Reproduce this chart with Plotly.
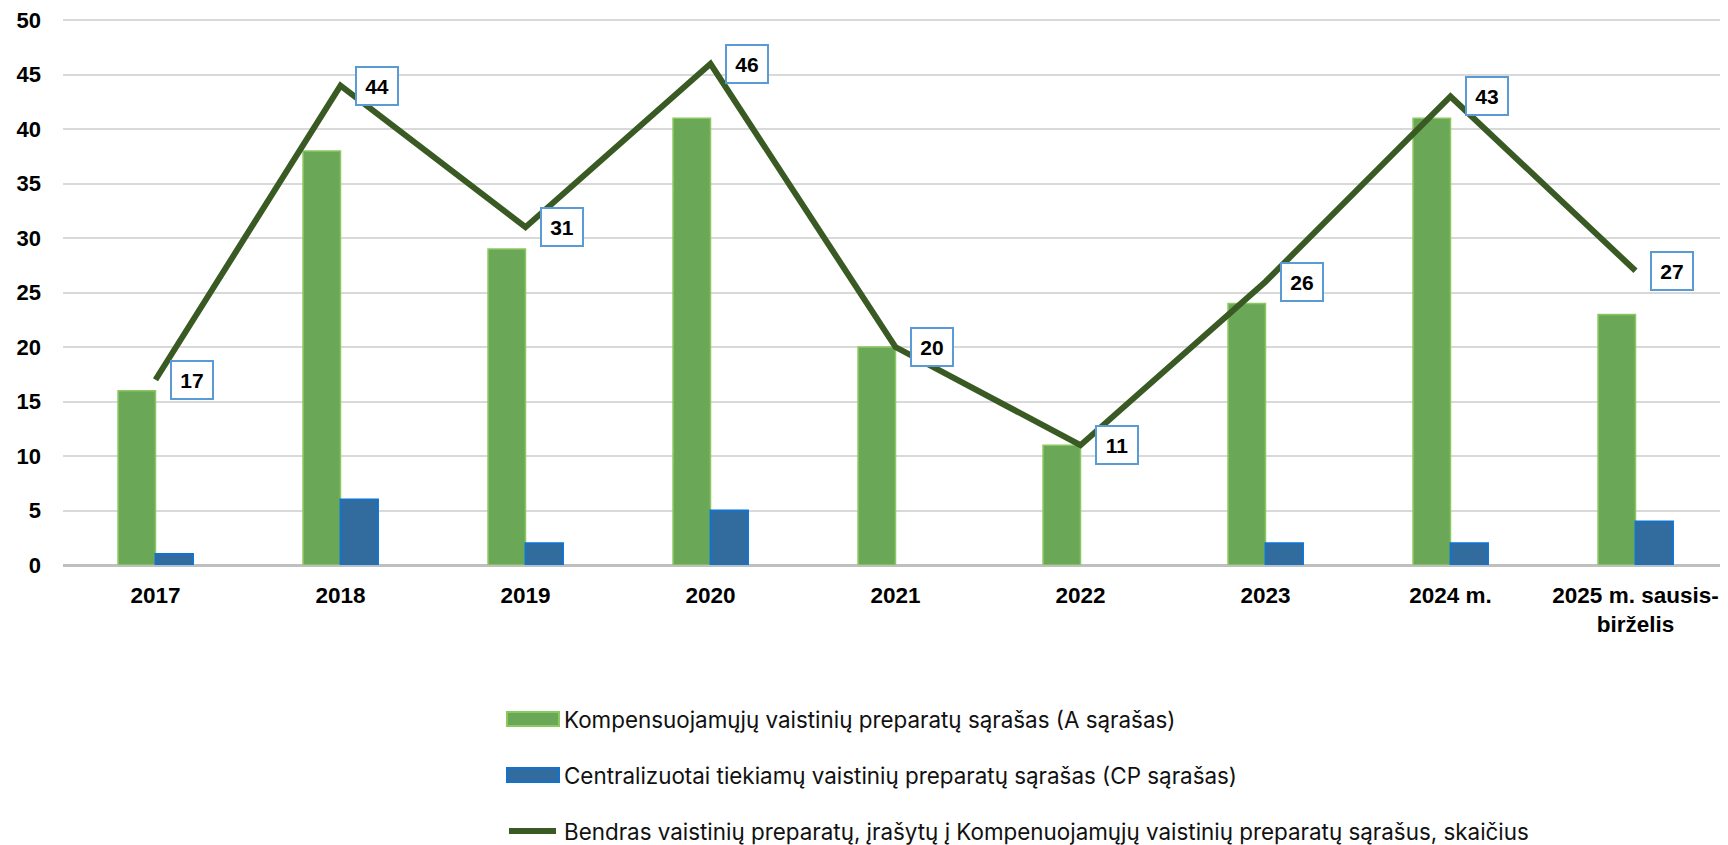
import plotly.graph_objects as go

# data
years = ["2017", "2018", "2019", "2020", "2021", "2022", "2023", "2024 m.", "2025 m. sausis-birželis"]
year_labels = ["2017", "2018", "2019", "2020", "2021", "2022", "2023", "2024 m.", "2025 m. sausis-<br>birželis"]
list_a = [16, 38, 29, 41, 20, 11, 24, 41, 23]
list_cp = [1, 6, 2, 5, None, None, 2, 2, 4]
total = [17, 44, 31, 46, 20, 11, 26, 43, 27]
y_ticks = [0, 5, 10, 15, 20, 25, 30, 35, 40, 45, 50]

name_a = "Kompensuojamųjų vaistinių preparatų sąrašas (A sąrašas)"
name_cp = "Centralizuotai tiekiamų vaistinių preparatų sąrašas (CP sąrašas)"
name_total = "Bendras vaistinių preparatų, įrašytų į Kompenuojamųjų vaistinių preparatų sąrašus, skaičius"

GREEN = "#6AA857"
GREEN_EDGE = "#8CC860"
BLUE = "#326C9F"
BLUE_EDGE = "#1272CC"
LINE = "#3A5A24"

fig = go.Figure()
fig.add_trace(go.Bar(x=years, y=list_a, name=name_a, showlegend=False,
                     marker=dict(color=GREEN, line=dict(color=GREEN_EDGE, width=1.5))))
fig.add_trace(go.Bar(x=years, y=list_cp, name=name_cp, showlegend=False,
                     marker=dict(color=BLUE, line=dict(color=BLUE_EDGE, width=2))))
fig.add_trace(go.Scatter(x=years, y=total, name=name_total, mode="lines", showlegend=False,
                         line=dict(color=LINE, width=6)))

# value boxes next to the line points (x given as category index, "2017" would be read as a number)
for i, v in enumerate(total):
    fig.add_annotation(x=i, y=v, text=str(v), showarrow=False, xshift=36,
                       font=dict(family="Liberation Sans", size=21, color="black", weight="bold"),
                       bgcolor="white", bordercolor="#5B9BD5", borderwidth=2,
                       width=38, height=34, borderpad=1)

# page has an 8px body margin, so the figure is drawn 8px smaller and layout is
# worked out in screen pixels
OFF = 8
L, T, B, R = 63, 18, 565, 1728
def px(xs):
    return (xs - L) / (R - L)
def py(ys):
    return (B - ys) / (B - T)

# legend drawn by hand (bigger keys than plotly's own)
legend_rows = [(name_a, 719, "bar_a"), (name_cp, 775, "bar_cp"), (name_total, 831, "line")]
for text, yc, kind in legend_rows:
    if kind == "bar_a":
        fig.add_shape(type="rect", xref="paper", yref="paper", x0=px(507), x1=px(559),
                      y0=py(yc + 7), y1=py(yc - 7), fillcolor=GREEN,
                      line=dict(color=GREEN_EDGE, width=2))
    elif kind == "bar_cp":
        fig.add_shape(type="rect", xref="paper", yref="paper", x0=px(507), x1=px(559),
                      y0=py(yc + 7), y1=py(yc - 7), fillcolor=BLUE,
                      line=dict(color=BLUE_EDGE, width=2))
    else:
        fig.add_shape(type="line", xref="paper", yref="paper", x0=px(509), x1=px(556),
                      y0=py(yc), y1=py(yc), line=dict(color=LINE, width=6))
    fig.add_annotation(xref="paper", yref="paper", x=px(562), y=py(yc), text=text,
                       xanchor="left", yanchor="middle", showarrow=False,
                       font=dict(family="Inter", size=22.4, color="#111111"))

fig.update_layout(
    width=1728 - OFF, height=845 - OFF,
    margin=dict(l=L - OFF, r=0, t=T - OFF, b=845 - B, autoexpand=False),
    paper_bgcolor="white", plot_bgcolor="white",
    barmode="group", bargap=0.595, bargroupgap=0,
    showlegend=False,
)
fig.update_xaxes(type="category", tickvals=years, ticktext=year_labels, showgrid=False,
                 range=[-0.5, len(years) - 0.5],
                 tickfont=dict(family="Liberation Sans", size=22.5, color="black", weight="bold"),
                 ticklabelstandoff=14, showline=False, automargin=False)
# top of range a little above 50 so plotly keeps the 50 gridline
fig.update_yaxes(range=[0, 50.2], tickvals=y_ticks, showgrid=True, gridcolor="#D9D9D9", gridwidth=2,
                 zeroline=True, zerolinecolor="#BFBFBF", zerolinewidth=3,
                 tickfont=dict(family="Liberation Sans", size=22, color="black", weight="bold"),
                 ticklabeloverflow="allow", ticklabelstandoff=21, automargin=False)

fig.write_html("out.html")
